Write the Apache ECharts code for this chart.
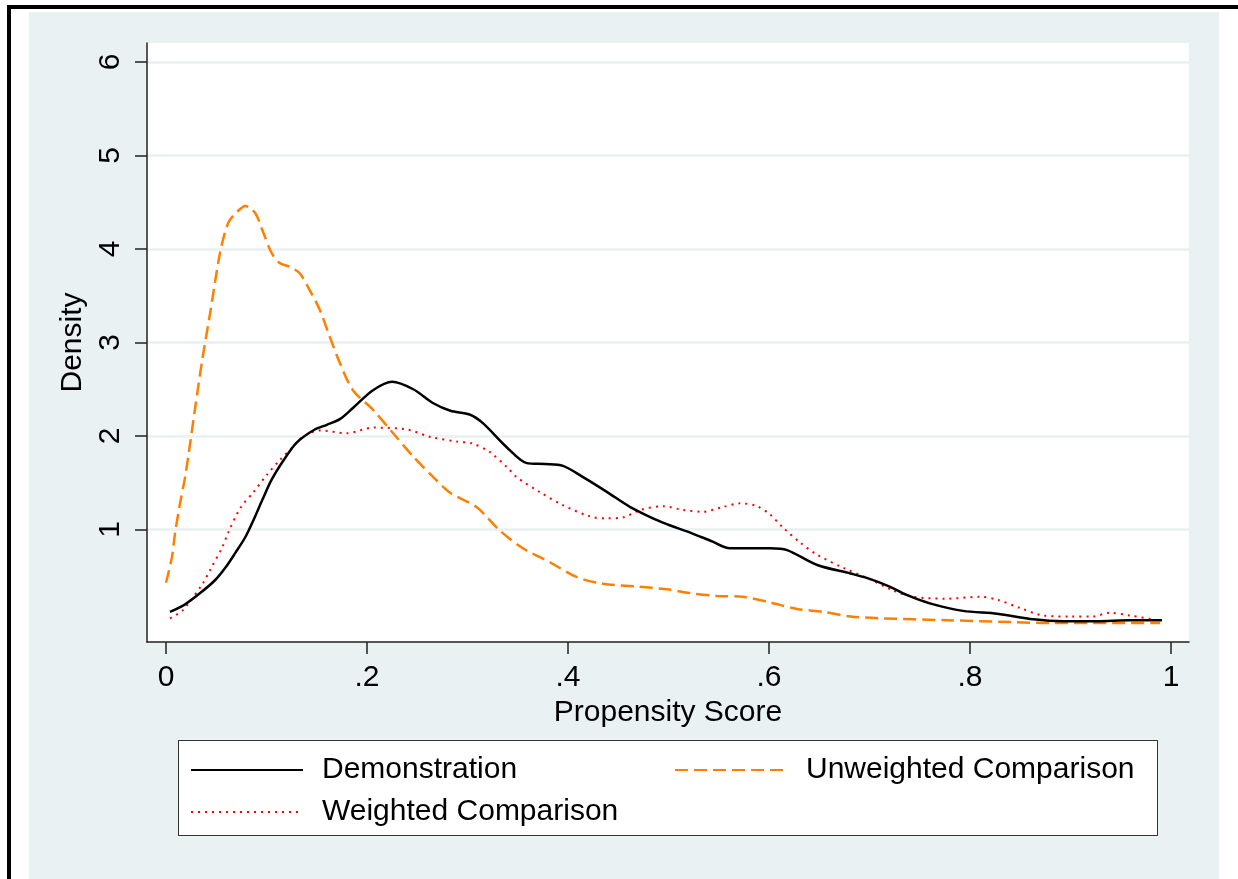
<!DOCTYPE html>
<html>
<head>
<meta charset="utf-8">
<script src="https://cdn.jsdelivr.net/npm/echarts@6/dist/echarts.min.js"></script>
<style>
  html, body { margin: 0; padding: 0; background: #ffffff; }
  #wrap { position: relative; width: 1238px; height: 879px; overflow: hidden; background: #fff; }
  #btop { position: absolute; left: 7px; top: 5px; width: 1231px; height: 4px; background: #000; }
  #bleft { position: absolute; left: 7px; top: 5px; width: 4px; height: 874px; background: #000; }
  #bg { position: absolute; left: 29px; top: 12px; width: 1190px; height: 867px; background: #EAF1F3; }
  #legbox { position: absolute; left: 178px; top: 740px; width: 978px; height: 94px; background: #fff; border: 1.5px solid #333; }
  #chart { position: absolute; left: 0; top: 0; width: 1238px; height: 879px; }
</style>
</head>
<body>
<div id="wrap">
  <div id="btop"></div>
  <div id="bleft"></div>
  <div id="bg"></div>
  <div id="legbox"></div>
  <div id="chart"></div>
</div>
<script>
// ---- data ----
const seriesNames = ['Demonstration', 'Unweighted Comparison', 'Weighted Comparison'];

const demonstration = [
  [0.004,0.12],[0.019,0.20],[0.034,0.32],[0.049,0.46],[0.059,0.59],[0.069,0.75],[0.079,0.92],
  [0.087,1.10],[0.096,1.32],[0.105,1.53],[0.117,1.74],[0.130,1.93],[0.148,2.07],[0.160,2.12],
  [0.173,2.18],[0.186,2.30],[0.206,2.49],[0.225,2.58],[0.246,2.50],[0.266,2.35],[0.283,2.27],
  [0.302,2.23],[0.315,2.14],[0.339,1.88],[0.359,1.71],[0.377,1.70],[0.395,1.68],[0.415,1.56],
  [0.439,1.40],[0.462,1.24],[0.495,1.07],[0.521,0.97],[0.544,0.87],[0.561,0.80],[0.601,0.80],
  [0.618,0.78],[0.648,0.62],[0.681,0.53],[0.698,0.48],[0.720,0.39],[0.737,0.30],[0.760,0.21],
  [0.793,0.13],[0.827,0.10],[0.863,0.04],[0.893,0.02],[0.926,0.02],[0.959,0.03],[0.991,0.03]
];

const unweighted = [
  [0.000,0.43],[0.006,0.71],[0.009,0.96],[0.014,1.28],[0.019,1.56],[0.024,1.92],[0.029,2.30],
  [0.036,2.81],[0.044,3.32],[0.054,3.97],[0.062,4.28],[0.071,4.40],[0.079,4.46],[0.089,4.38],
  [0.097,4.17],[0.105,3.96],[0.113,3.85],[0.123,3.81],[0.133,3.74],[0.143,3.56],[0.153,3.35],
  [0.163,3.06],[0.173,2.78],[0.186,2.49],[0.206,2.28],[0.226,2.03],[0.246,1.78],[0.266,1.56],
  [0.283,1.39],[0.309,1.24],[0.332,0.99],[0.355,0.80],[0.382,0.65],[0.409,0.49],[0.435,0.42],
  [0.469,0.39],[0.499,0.36],[0.521,0.32],[0.548,0.29],[0.574,0.28],[0.601,0.22],[0.628,0.15],
  [0.654,0.12],[0.681,0.07],[0.713,0.05],[0.777,0.03],[0.843,0.01],[0.877,0.00],[0.942,0.00],
  [0.989,0.00]
];

const weighted = [
  [0.004,0.05],[0.017,0.14],[0.037,0.43],[0.044,0.57],[0.056,0.81],[0.062,0.97],[0.074,1.23],
  [0.087,1.40],[0.100,1.58],[0.113,1.74],[0.126,1.88],[0.136,1.99],[0.153,2.06],[0.180,2.03],
  [0.206,2.09],[0.240,2.07],[0.263,1.99],[0.290,1.94],[0.305,1.92],[0.322,1.83],[0.339,1.67],
  [0.349,1.56],[0.372,1.40],[0.395,1.26],[0.422,1.14],[0.439,1.12],[0.455,1.13],[0.472,1.21],
  [0.495,1.25],[0.514,1.21],[0.534,1.19],[0.554,1.24],[0.571,1.28],[0.588,1.25],[0.601,1.16],
  [0.614,1.02],[0.631,0.86],[0.648,0.73],[0.674,0.59],[0.698,0.48],[0.723,0.35],[0.743,0.28],
  [0.777,0.26],[0.810,0.28],[0.827,0.25],[0.850,0.16],[0.873,0.08],[0.900,0.07],[0.922,0.07],
  [0.939,0.11],[0.959,0.08],[0.982,0.04]
];

const xTicks = [0, 0.2, 0.4, 0.6, 0.8, 1];
const xTickLabels = ['0', '.2', '.4', '.6', '.8', '1'];
const yTicks = [1, 2, 3, 4, 5, 6];
const yTickLabels = ['1', '2', '3', '4', '5', '6'];

// ---- chart ----
const FONT = '"Liberation Sans", Arial, sans-serif';
const chart = echarts.init(document.getElementById('chart'), null, { renderer: 'canvas' });

const colors = { demo: '#000000', unw: '#FF8000', w: '#FF0000' };

function legendAt(name, left, top) {
  return {
    data: [name],
    left: left, top: top,
    padding: 0,
    itemWidth: 112, itemHeight: 14,
    selectedMode: false,
    itemStyle: { opacity: 0 },
    textStyle: { fontFamily: FONT, fontSize: 30, color: '#000', padding: [0, 0, 0, 14], lineHeight: 34 }
  };
}

chart.setOption({
  backgroundColor: 'transparent',
  animation: false,
  grid: {
    left: 147, top: 43, width: 1042, height: 599,
    show: true, backgroundColor: '#ffffff', borderWidth: 0
  },
  xAxis: {
    type: 'value',
    min: -0.0189, max: 1.0179,
    name: 'Propensity Score',
    nameLocation: 'middle',
    nameGap: 42,
    nameTextStyle: { fontFamily: FONT, fontSize: 30, color: '#000' },
    axisLine: { show: true, onZero: false, lineStyle: { color: '#222', width: 1.5 } },
    axisTick: { show: true, length: 12, customValues: xTicks, lineStyle: { color: '#222', width: 1.5 } },
    axisLabel: {
      show: true, margin: 21, customValues: xTicks,
      fontFamily: FONT, fontSize: 30, color: '#000',
      formatter: function (v) {
        const i = xTicks.findIndex(t => Math.abs(t - v) < 1e-9);
        return i >= 0 ? xTickLabels[i] : '';
      }
    },
    splitLine: { show: false }
  },
  yAxis: {
    type: 'value',
    min: -0.203, max: 6.203,
    name: 'Density',
    nameLocation: 'middle',
    nameGap: 54,
    nameTextStyle: { fontFamily: FONT, fontSize: 30, color: '#000' },
    axisLine: { show: true, onZero: false, lineStyle: { color: '#222', width: 1.5 } },
    axisTick: { show: true, length: 12, customValues: yTicks, lineStyle: { color: '#222', width: 1.5 } },
    axisLabel: {
      show: true, margin: 21, rotate: 90, customValues: yTicks,
      fontFamily: FONT, fontSize: 30, color: '#000',
      formatter: function (v) {
        const i = yTicks.findIndex(t => Math.abs(t - v) < 1e-9);
        return i >= 0 ? yTickLabels[i] : '';
      }
    },
    splitLine: { show: true, lineStyle: { color: '#E8F0F2', width: 2.5 } }
  },
  legend: [
    legendAt(seriesNames[0], 190, 753),
    legendAt(seriesNames[2], 190, 795),
    legendAt(seriesNames[1], 674, 753)
  ],
  series: [
    {
      name: seriesNames[0], type: 'line', data: demonstration,
      symbol: 'none', smooth: 0.3, z: 4,
      lineStyle: { color: colors.demo, width: 2.5, type: 'solid' },
      itemStyle: { color: colors.demo }
    },
    {
      name: seriesNames[1], type: 'line', data: unweighted,
      symbol: 'none', smooth: 0.3, z: 3,
      lineStyle: { color: colors.unw, width: 2.5, type: [13, 6] },
      itemStyle: { color: colors.unw }
    },
    {
      name: seriesNames[2], type: 'line', data: weighted,
      symbol: 'none', smooth: 0.3, z: 2,
      lineStyle: { color: colors.w, width: 2, type: [2, 5] },
      itemStyle: { color: colors.w }
    }
  ]
});
</script>
</body>
</html>
